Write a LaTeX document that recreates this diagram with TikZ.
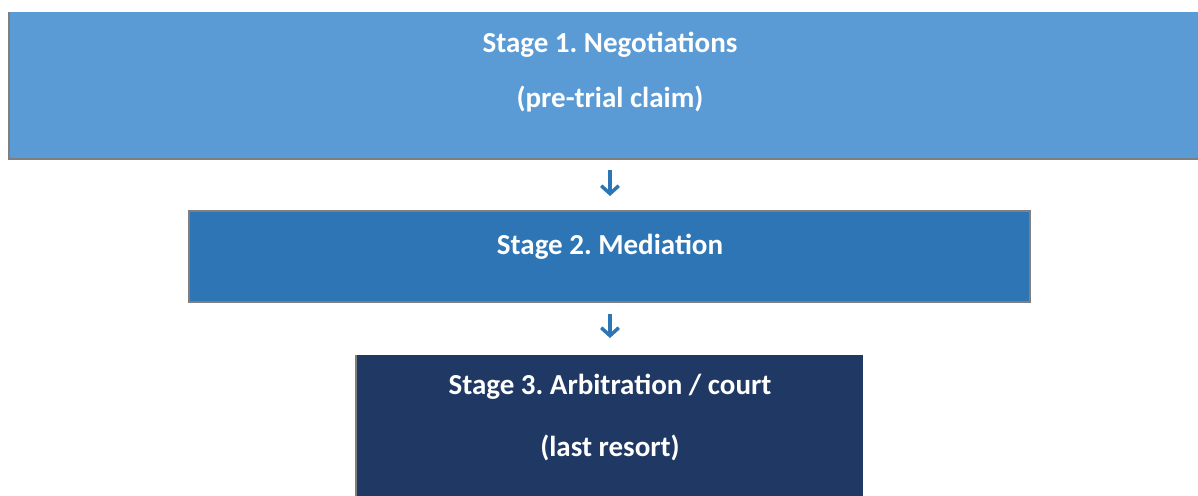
\documentclass[tikz,border=0pt]{standalone}
\usepackage{fontspec}
\setmainfont{Carlito}
\usetikzlibrary{arrows.meta,positioning}

\definecolor{stageone}{HTML}{5B9BD5}
\definecolor{stagetwo}{HTML}{2E75B6}
\definecolor{stagethree}{HTML}{1F3864}
\definecolor{edgegray}{HTML}{7F7F7F}

\tikzset{
  stagebox/.style={rectangle,inner sep=0pt,outer sep=0pt},
  stagetext/.style={anchor=base,text=white,font=\fontsize{16.5}{20}\selectfont\bfseries\frenchspacing,inner sep=0pt},
  stepline/.style={stagetwo,line width=2pt,-{Straight Barb[length=4.5pt,width=10pt,line width=2pt]}}
}

\begin{document}
\begin{tikzpicture}[x=0.02cm,y=-0.02cm]
        \useasboundingbox (0,0) rectangle (1198,495);

        % boxes
        \node[stagebox,fill=stageone,minimum width=1189*0.02cm,minimum height=147*0.02cm] (neg) at (603.5,85.5) {};
        \node[stagebox,fill=stagetwo,draw=edgegray,line width=0.6pt,minimum width=841*0.02cm,minimum height=91*0.02cm] (med) at (609.5,256.5) {};
        \node[stagebox,fill=stagethree,minimum width=507*0.02cm,minimum height=145*0.02cm] (arb) at (609.5,427.5) {};
        \draw[edgegray,line width=0.6pt] (neg.north west) -- (neg.south west) -- (neg.south east);
        \draw[edgegray,line width=0.6pt] (arb.north west) -- (arb.south west);

        % texts
        \node[stagetext] (negA) at (610,52) {Stage 1. Negotiations};
        \node[stagetext] (negB) at (610,107) {(pre-trial claim)};
        \node[stagetext] (medA) at (610,254) {Stage 2. Mediation};
        \node[stagetext] (arbA) at (610,394) {Stage 3. Arbitration / court};
        \node[stagetext] (arbB) at (610,456) {(last resort)};

        % arrows
        \draw[stepline,shorten <=11*0.02cm,shorten >=15*0.02cm] (negA |- neg.south) -- (medA |- med.north);
        \draw[stepline,shorten <=12*0.02cm,shorten >=17*0.02cm] (medA |- med.south) -- (arbA |- arb.north);
      \end{tikzpicture}
\end{document}
